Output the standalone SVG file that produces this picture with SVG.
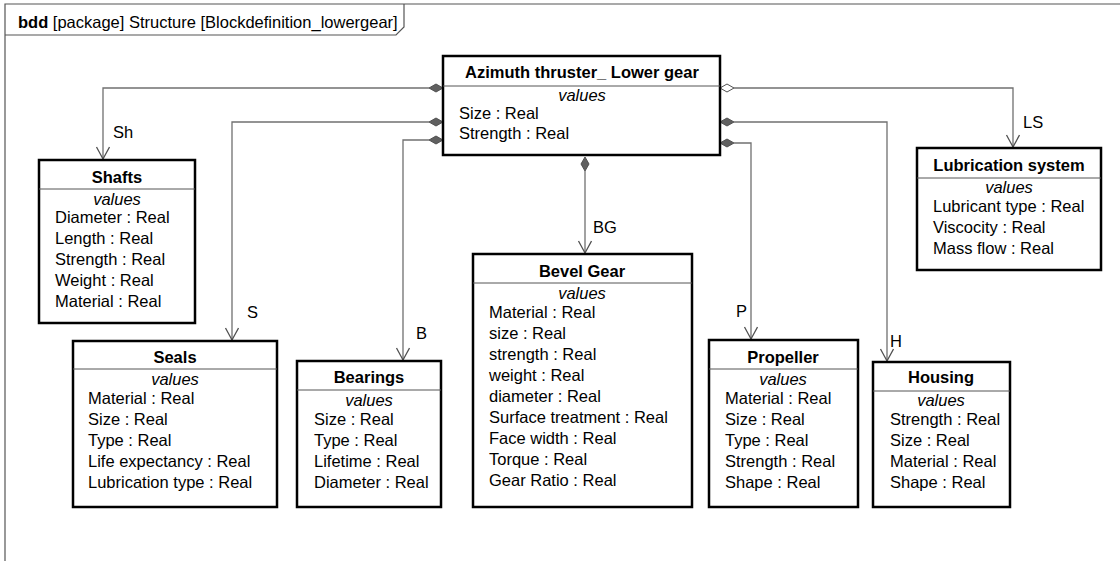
<svg xmlns="http://www.w3.org/2000/svg" width="1120" height="561" viewBox="0 0 1120 561">
<style>
text{font-family:"Liberation Sans",Arial,sans-serif;font-size:16.5px;fill:#000}
.t{font-weight:bold;text-anchor:middle}
.v{font-style:italic;text-anchor:middle}
.lb{font-size:16.5px}
.box{fill:#fff;stroke:#000;stroke-width:2.5}
.sep{stroke:#555;stroke-width:1}
.c{fill:none;stroke:#707070;stroke-width:1.3}
.fd{fill:#606060;stroke:#505050;stroke-width:1}
.hd{fill:#fff;stroke:#505050;stroke-width:1}
.frame{fill:none;stroke:#555;stroke-width:1.2}
</style>
<defs>
<marker id="arr" markerWidth="16" markerHeight="16" refX="13" refY="7" orient="auto" markerUnits="userSpaceOnUse">
<path d="M1,0.5 L13,7 L1,13.5" fill="none" stroke="#505050" stroke-width="1.3"/>
</marker>
</defs>
<rect width="1120" height="561" fill="#fff"/>
<g id="frame">
<path class="frame" d="M5,561 V4 H1120"/>
<path class="frame" d="M5,35 H396 L404,27 V4"/>
<text x="18" y="28"><tspan font-weight="bold">bdd</tspan> [package] Structure [Blockdefinition_lowergear]</text>
</g>
<g id="connectors">
<path class="c" d="M429,88 H103 V159" marker-end="url(#arr)"/>
<path class="c" d="M429,122 H232 V340" marker-end="url(#arr)"/>
<path class="c" d="M429,140 H403 V360" marker-end="url(#arr)"/>
<path class="c" d="M734,88 H1013 V147" marker-end="url(#arr)"/>
<path class="c" d="M734,122 H887 V361" marker-end="url(#arr)"/>
<path class="c" d="M734,143 H751 V339" marker-end="url(#arr)"/>
<path class="c" d="M585,171 V253" marker-end="url(#arr)"/>
<path class="fd" d="M429,88 L436,84 L443,88 L436,92 Z"/>
<path class="fd" d="M429,122 L436,118 L443,122 L436,126 Z"/>
<path class="fd" d="M429,140 L436,136 L443,140 L436,144 Z"/>
<path class="hd" d="M720,88 L727,84 L734,88 L727,92 Z"/>
<path class="fd" d="M720,122 L727,118 L734,122 L727,126 Z"/>
<path class="fd" d="M720,143 L727,139 L734,143 L727,147 Z"/>
<path class="fd" d="M585,157 L589,164 L585,171 L581,164 Z"/>
<text class="lb" x="113" y="138">Sh</text>
<text class="lb" x="247" y="318">S</text>
<text class="lb" x="416" y="339">B</text>
<text class="lb" x="1023" y="128">LS</text>
<text class="lb" x="890" y="347">H</text>
<text class="lb" x="736" y="317">P</text>
<text class="lb" x="593" y="233">BG</text>
</g>
<g id="main">
<rect class="box" x="443" y="56" width="277" height="99"/>
<line class="sep" x1="443" y1="86" x2="720" y2="86"/>
<text class="t" x="582" y="78">Azimuth thruster_ Lower gear</text>
<text class="v" x="582" y="101">values</text>
<text x="459" y="119">Size : Real</text>
<text x="459" y="139">Strength : Real</text>
</g>
<g id="shafts">
<rect class="box" x="39" y="160" width="156" height="163"/>
<line class="sep" x1="39" y1="189" x2="195" y2="189"/>
<text class="t" x="117" y="183">Shafts</text>
<text class="v" x="117" y="205">values</text>
<text x="55" y="223">Diameter : Real</text>
<text x="55" y="244">Length : Real</text>
<text x="55" y="265">Strength : Real</text>
<text x="55" y="286">Weight : Real</text>
<text x="55" y="307">Material : Real</text>
</g>
<g id="seals">
<rect class="box" x="73" y="341" width="204" height="166"/>
<line class="sep" x1="73" y1="369" x2="277" y2="369"/>
<text class="t" x="175" y="363">Seals</text>
<text class="v" x="175" y="385">values</text>
<text x="88" y="404">Material : Real</text>
<text x="88" y="425">Size : Real</text>
<text x="88" y="446">Type : Real</text>
<text x="88" y="467">Life expectancy : Real</text>
<text x="88" y="488">Lubrication type : Real</text>
</g>
<g id="bearings">
<rect class="box" x="297" y="361" width="144" height="146"/>
<line class="sep" x1="297" y1="390" x2="441" y2="390"/>
<text class="t" x="369" y="383">Bearings</text>
<text class="v" x="369" y="406">values</text>
<text x="314" y="425">Size : Real</text>
<text x="314" y="446">Type : Real</text>
<text x="314" y="467">Lifetime : Real</text>
<text x="314" y="488">Diameter : Real</text>
</g>
<g id="bevelgear">
<rect class="box" x="473" y="254" width="219" height="253"/>
<line class="sep" x1="473" y1="283" x2="692" y2="283"/>
<text class="t" x="582" y="277">Bevel Gear</text>
<text class="v" x="582" y="299">values</text>
<text x="489" y="318">Material : Real</text>
<text x="489" y="339">size : Real</text>
<text x="489" y="360">strength : Real</text>
<text x="489" y="381">weight : Real</text>
<text x="489" y="402">diameter : Real</text>
<text x="489" y="423">Surface treatment : Real</text>
<text x="489" y="444">Face width : Real</text>
<text x="489" y="465">Torque : Real</text>
<text x="489" y="486">Gear Ratio : Real</text>
</g>
<g id="propeller">
<rect class="box" x="709" y="340" width="149" height="167"/>
<line class="sep" x1="709" y1="369" x2="858" y2="369"/>
<text class="t" x="783" y="363">Propeller</text>
<text class="v" x="783" y="385">values</text>
<text x="725" y="404">Material : Real</text>
<text x="725" y="425">Size : Real</text>
<text x="725" y="446">Type : Real</text>
<text x="725" y="467">Strength : Real</text>
<text x="725" y="488">Shape : Real</text>
</g>
<g id="housing">
<rect class="box" x="873" y="362" width="137" height="145"/>
<line class="sep" x1="873" y1="391" x2="1010" y2="391"/>
<text class="t" x="941" y="383">Housing</text>
<text class="v" x="941" y="406">values</text>
<text x="890" y="425">Strength  : Real</text>
<text x="890" y="446">Size : Real</text>
<text x="890" y="467">Material : Real</text>
<text x="890" y="488">Shape : Real</text>
</g>
<g id="lubrication">
<rect class="box" x="917" y="148" width="184" height="122"/>
<line class="sep" x1="917" y1="178" x2="1101" y2="178"/>
<text class="t" x="1009" y="171">Lubrication system</text>
<text class="v" x="1009" y="193">values</text>
<text x="933" y="212">Lubricant type : Real</text>
<text x="933" y="233">Viscocity : Real</text>
<text x="933" y="254">Mass flow : Real</text>
</g>
</svg>
